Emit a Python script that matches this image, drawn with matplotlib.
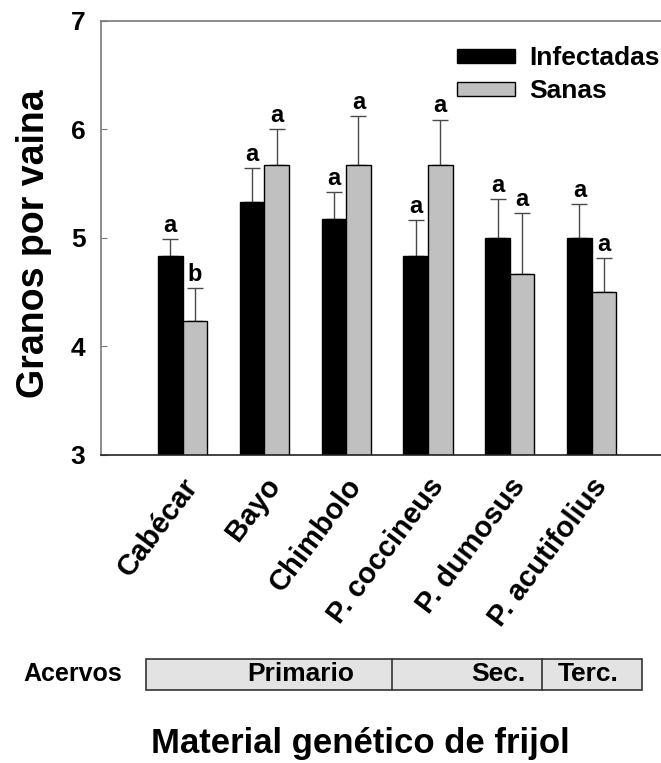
import matplotlib
matplotlib.use("Agg")
import matplotlib.pyplot as plt
from matplotlib.patches import Patch, Rectangle
from matplotlib.lines import Line2D
from matplotlib.transforms import ScaledTranslation
import numpy as np

plt.rcParams['font.family'] = ['Liberation Sans', 'DejaVu Sans']
plt.rcParams['font.weight'] = 'bold'

categories = ["Cabécar", "Bayo", "Chimbolo", "P. coccineus", "P. dumosus", "P. acutifolius"]
infectadas = [4.83, 5.33, 5.17, 4.83, 5.00, 5.00]
infectadas_err = [0.16, 0.31, 0.25, 0.33, 0.36, 0.31]
sanas = [4.23, 5.67, 5.67, 5.67, 4.67, 4.50]
sanas_err = [0.31, 0.33, 0.45, 0.42, 0.56, 0.31]
letters_inf = ["a", "a", "a", "a", "a", "a"]
letters_san = ["b", "a", "a", "a", "a", "a"]
yticks = [3, 4, 5, 6, 7]
acervos = ["Primario", "Sec.", "Terc."]

W, H = 661, 763
fig = plt.figure(figsize=(W / 100, H / 100), dpi=100)

def fx(px):
    return px / W

def fy(py):
    return 1 - py / H

# axes: left spine at 100.7 px, x=0 centre at 183.3 px, 81.7 px per group
ax = fig.add_axes([fx(100.7), fy(455), fx(673.5) - fx(100.7), fy(20.7) - fy(455)])
x = np.arange(len(categories))
bw = 0.3
ax.bar(x - bw / 2, infectadas, bw, color='black', edgecolor='black', linewidth=1, zorder=2,
       label='Infectadas')
ax.bar(x + bw / 2, sanas, bw, color='#C0C0C0', edgecolor='black', linewidth=1, zorder=2, label='Sanas')
ax.errorbar(x - bw / 2, infectadas, yerr=[np.zeros(len(x)), infectadas_err], fmt='none',
            ecolor='#4a4a4a', elinewidth=1, capsize=5.5, capthick=1, zorder=1)
ax.errorbar(x + bw / 2, sanas, yerr=[np.zeros(len(x)), sanas_err], fmt='none',
            ecolor='#4a4a4a', elinewidth=1, capsize=5.5, capthick=1, zorder=1)

for xi, v, e, l in zip(x - bw / 2, infectadas, infectadas_err, letters_inf):
    ax.annotate(l, (xi, v + e), xytext=(0, 1.5), textcoords='offset points',
                ha='center', va='bottom', fontsize=17, fontweight='bold')
for xi, v, e, l in zip(x + bw / 2, sanas, sanas_err, letters_san):
    ax.annotate(l, (xi, v + e), xytext=(0, 1.5), textcoords='offset points',
                ha='center', va='bottom', fontsize=17, fontweight='bold')

ax.set_xlim(-1, 6)
ax.set_ylim(3, 7)
ax.set_yticks(yticks)
ax.set_yticklabels([str(t) for t in yticks], fontsize=19, fontweight='bold')
ax.tick_params(axis='y', direction='in', length=4.5, width=0.8, color='#777777', pad=11)
ax.set_xticks(x)
ax.set_xticklabels(categories, fontsize=21, fontweight='bold', rotation=53,
                   ha='right', va='center', rotation_mode='anchor')
ax.tick_params(axis='x', length=0, pad=0)
off = ScaledTranslation(0.10, -0.26, fig.dpi_scale_trans)
for lab in ax.get_xticklabels():
    lab.set_transform(lab.get_transform() + off)

ax.spines['right'].set_visible(False)
for s in ['left', 'top']:
    ax.spines[s].set_color('#7a7a7a')
    ax.spines[s].set_linewidth(1.2)
ax.spines['bottom'].set_color('#222222')
ax.spines['bottom'].set_linewidth(1.2)

handles = [Patch(facecolor='black', edgecolor='black', linewidth=1),
           Patch(facecolor='#C0C0C0', edgecolor='black', linewidth=1)]
leg = fig.legend(handles, ['Infectadas', 'Sanas'], loc='upper left',
                 bbox_to_anchor=(fx(457), fy(46)), frameon=False, borderpad=0, borderaxespad=0,
                 handlelength=2.2, handleheight=0.45, handletextpad=0.55, labelspacing=0.36,
                 prop={'size': 19, 'weight': 'bold'})

fig.text(fx(34), fy(244), "Granos por vaina", rotation=90, ha='center', va='center',
         fontsize=27, fontweight='bold')

# Acervos table
y0, y1 = 659.3, 690.0
xs = [145.7, 391.7, 541.7, 641.7]
fig.patches.append(Rectangle((fx(xs[0]), fy(y1)), fx(xs[-1]) - fx(xs[0]), fy(y0) - fy(y1),
                             transform=fig.transFigure, facecolor='#E3E3E3', edgecolor='#333333',
                             linewidth=1.2, figure=fig))
for xd in xs[1:-1]:
    fig.lines.append(Line2D([fx(xd), fx(xd)], [fy(y1), fy(y0)], transform=fig.transFigure,
                            color='#333333', linewidth=1.2, figure=fig))
fig.text(fx(23), fy(674), "Acervos", ha='left', va='center', fontsize=18, fontweight='bold')
acervo_x = [300.7, 498.0, 588.0]
for name, xc in zip(acervos, acervo_x):
    fig.text(fx(xc), fy(674), name, ha='center', va='center', fontsize=19, fontweight='bold')

fig.text(fx(360), fy(744), "Material genético de frijol", ha='center', va='center',
         fontsize=25, fontweight='bold')

fig.savefig("out.png", dpi=100)
